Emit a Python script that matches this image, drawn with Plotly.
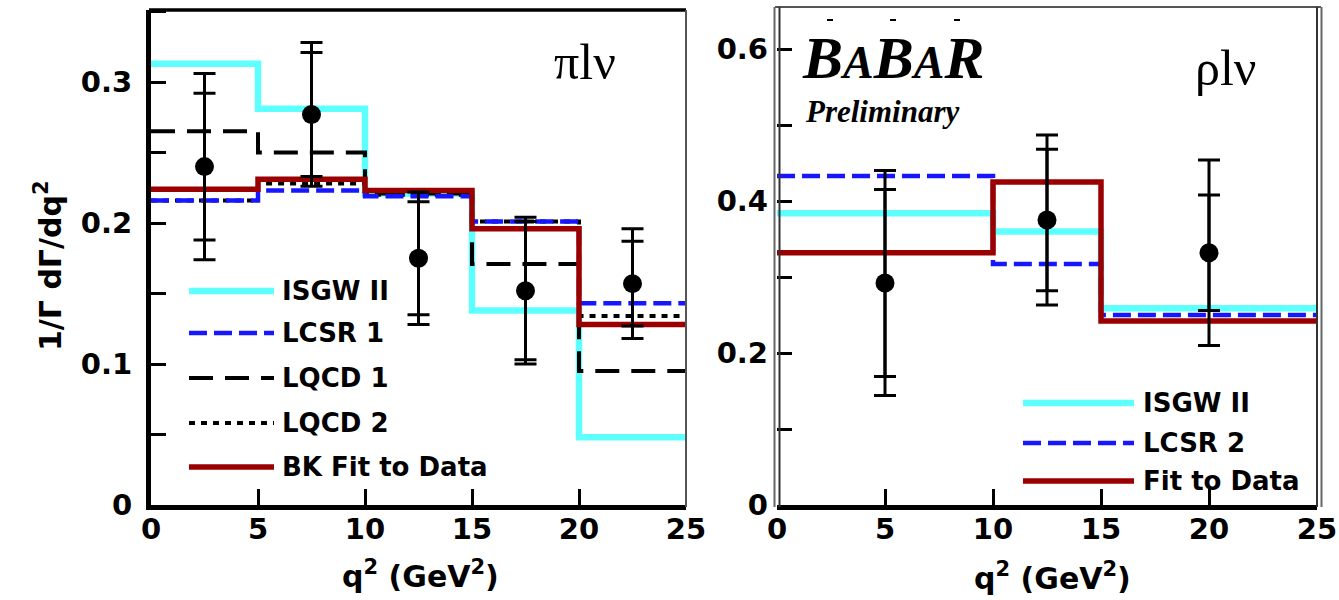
import plotly.graph_objects as go

W, H = 1339, 600

# ---------------- data ----------------
edges_pi = [0, 5, 10, 15, 20, 25]
isgw_pi = [0.313, 0.281, 0.221, 0.138, 0.048]
lcsr1_pi = [0.216, 0.223, 0.219, 0.201, 0.143]
lqcd1_pi = [0.265, 0.250, 0.221, 0.171, 0.095]
lqcd2_pi = [0.216, 0.228, 0.220, 0.201, 0.134]
bk_pi = [0.224, 0.231, 0.223, 0.196, 0.128]
q2_pi = [2.5, 7.5, 12.5, 17.5, 22.5]
data_pi = [0.240, 0.277, 0.175, 0.152, 0.157]
err_tot_pi = [0.066, 0.051, 0.047, 0.052, 0.039]
err_stat_pi = [0.052, 0.044, 0.040, 0.049, 0.030]

edges_rho = [0, 10, 15, 25]
isgw_rho = [0.384, 0.360, 0.259]
lcsr2_rho = [0.433, 0.317, 0.250]
fit_rho = [0.332, 0.425, 0.242]
q2_rho = [5, 12.5, 20]
data_rho = [0.292, 0.375, 0.332]
err_tot_rho = [0.148, 0.112, 0.122]
err_stat_rho = [0.123, 0.093, 0.076]

legend_pi = ["ISGW II", "LCSR 1", "LQCD 1", "LQCD 2", "BK Fit to Data"]
legend_rho = ["ISGW II", "LCSR 2", "Fit to Data"]
x_ticks = [0, 5, 10, 15, 20, 25]

# ---------------- styles ----------------
CYAN = "#5EFFFF"
BLUE = "#1616FF"
RED = "#9A0000"
BLACK = "#000000"
STY = {
    "isgw": dict(color=CYAN, width=6.5, dash="solid"),
    "lcsr": dict(color=BLUE, width=4.5, dash="18px,7px"),
    "lqcd1": dict(color=BLACK, width=4, dash="24px,12px"),
    "lqcd2": dict(color=BLACK, width=4, dash="6px,6px"),
    "fit": dict(color=RED, width=5.5, dash="solid"),
}
SANS = "DejaVu Sans"
SERIF = "Liberation Serif"


def px(x):
    return x / W


def py(y):
    return 1 - y / H


# plot areas in pixels
L = dict(x0=151, x1=686, y0=10, y1=505)
R = dict(x0=777, x1=1317, y0=6.5, y1=505)

fig = go.Figure()


def step(edges, vals, key, xa, ya):
    fig.add_trace(go.Scatter(
        x=edges, y=list(vals) + [vals[-1]], mode="lines", line_shape="hv",
        line=STY[key], xaxis=xa, yaxis=ya, showlegend=False, hoverinfo="skip"))


def points(x, y, etot, estat, xa, ya):
    fig.add_trace(go.Scatter(
        x=x, y=y, mode="markers", xaxis=xa, yaxis=ya, showlegend=False,
        marker=dict(size=1, color="rgba(0,0,0,0)"),
        error_y=dict(type="data", array=etot, thickness=3, width=11, color=BLACK)))
    fig.add_trace(go.Scatter(
        x=x, y=y, mode="markers", xaxis=xa, yaxis=ya, showlegend=False,
        marker=dict(size=19, color=BLACK),
        error_y=dict(type="data", array=estat, thickness=3, width=11, color=BLACK)))


# left panel
step(edges_pi, isgw_pi, "isgw", "x", "y")
step(edges_pi, lqcd1_pi, "lqcd1", "x", "y")
step(edges_pi, lqcd2_pi, "lqcd2", "x", "y")
step(edges_pi, lcsr1_pi, "lcsr", "x", "y")
step(edges_pi, bk_pi, "fit", "x", "y")
points(q2_pi, data_pi, err_tot_pi, err_stat_pi, "x", "y")

# right panel
step(edges_rho, isgw_rho, "isgw", "x2", "y2")
step(edges_rho, lcsr2_rho, "lcsr", "x2", "y2")
step(edges_rho, fit_rho, "fit", "x2", "y2")
points(q2_rho, data_rho, err_tot_rho, err_stat_rho, "x2", "y2")

tickfont = dict(family=SANS, size=29, color=BLACK, weight="bold")
common_x = dict(range=[0, 25], tickvals=x_ticks, ticks="inside", ticklen=16, tickwidth=3,
                tickcolor=BLACK, showline=True, linewidth=5, linecolor=BLACK,
                showgrid=False, zeroline=False, tickfont=tickfont, ticklabelstandoff=-6,
                automargin=False)
common_y = dict(ticks="inside", ticklen=15, tickwidth=3, tickcolor=BLACK,
                showgrid=False, zeroline=False, tickfont=tickfont, ticklabelstandoff=8,
                automargin=False)

fig.update_layout(
    width=W, height=H, margin=dict(l=0, r=0, t=0, b=0, autoexpand=False),
    paper_bgcolor="white", plot_bgcolor="white",
    xaxis=dict(domain=[px(L["x0"]), px(L["x1"])], anchor="y", **common_x),
    yaxis=dict(domain=[py(L["y1"]), py(L["y0"])], anchor="x",
               range=[0, (L["y1"] - L["y0"]) / 1410], tick0=0, dtick=0.1,
               minor=dict(dtick=0.05, tick0=0, ticks="inside", ticklen=15, tickwidth=3, tickcolor=BLACK),
               showline=True, linewidth=5, linecolor=BLACK, **common_y),
    xaxis2=dict(domain=[px(R["x0"]), px(R["x1"])], anchor="y2", **common_x),
    yaxis2=dict(domain=[py(R["y1"]), py(R["y0"])], anchor="x2",
                range=[0, (R["y1"] - R["y0"]) / 760], tick0=0, dtick=0.2,
                minor=dict(dtick=0.1, tick0=0, ticks="inside", ticklen=15, tickwidth=3, tickcolor=BLACK),
                showline=False, **common_y),
)

shapes = []


def seg(x0, y0, x1, y1, color, width, dash="solid"):
    shapes.append(dict(type="line", xref="paper", yref="paper",
                       x0=px(x0), y0=py(y0), x1=px(x1), y1=py(y1),
                       line=dict(color=color, width=width, dash=dash)))


# frames
seg(L["x0"] - 2, 10, L["x1"], 10, BLACK, 3.5)
seg(L["x1"], 10, L["x1"], 507, "#555555", 2)
seg(R["x0"] - 2, 7, R["x1"] + 4, 7, "#555555", 2)
seg(R["x0"] - 2.5, 7, R["x0"] - 2.5, 507, "#666666", 2)
seg(R["x0"] + 2.5, 7, R["x0"] + 2.5, 507, "#333333", 2)
seg(R["x1"], 7, R["x1"], 507, "#333333", 2)
seg(R["x1"] + 4.5, 7, R["x1"] + 4.5, 507, "#666666", 2)
# small marks above logo
for xm in (830, 893, 957):
    seg(xm - 3, 20, xm + 3, 20, BLACK, 2)

annotations = []


def text(x, y, s, size, family=SANS, xanchor="left", bold=True, italic=False, angle=0):
    annotations.append(dict(
        x=px(x), y=py(y), xref="paper", yref="paper", text=s, showarrow=False,
        xanchor=xanchor, yanchor="middle", textangle=angle,
        font=dict(family=family, size=size, color=BLACK,
                  weight="bold" if bold else "normal", style="italic" if italic else "normal")))


# legend left
leg_keys_pi = ["isgw", "lcsr", "lqcd1", "lqcd2", "fit"]
leg_y_pi = [291, 333, 378, 423, 467]
for lab, key, yy in zip(legend_pi, leg_keys_pi, leg_y_pi):
    st = STY[key]
    seg(189, yy, 274, yy, st["color"], st["width"], st["dash"])
    text(280, yy, lab, 26)

# legend right
leg_keys_rho = ["isgw", "lcsr", "fit"]
leg_y_rho = [403, 443, 481]
for lab, key, yy in zip(legend_rho, leg_keys_rho, leg_y_rho):
    st = STY[key]
    seg(1023, yy, 1134, yy, st["color"], st["width"], st["dash"])
    text(1141, yy, lab, 26)

# axis titles
text(420, 574, "q<sup>2</sup> (GeV<sup>2</sup>)", 30, xanchor="center")
text(1052, 576, "q<sup>2</sup> (GeV<sup>2</sup>)", 30, xanchor="center")
text(48, 266, "1/Γ dΓ/dq<sup>2</sup>", 30, xanchor="center", angle=-90)

# channel labels
text(585, 62, "πlν", 50, family=SERIF, xanchor="center", bold=False)
text(1225, 68, "ρlν", 50, family=SERIF, xanchor="center", bold=False)

# BaBar logo
text(800, 58, "B<span style='font-size:46px'>A</span>B<span style='font-size:46px'>A</span>R",
     60, family=SERIF, bold=True, italic=True)
text(803, 111, "Preliminary", 31, family=SERIF, bold=True, italic=True)

fig.update_layout(shapes=shapes, annotations=annotations)
fig.write_html("out.html")
